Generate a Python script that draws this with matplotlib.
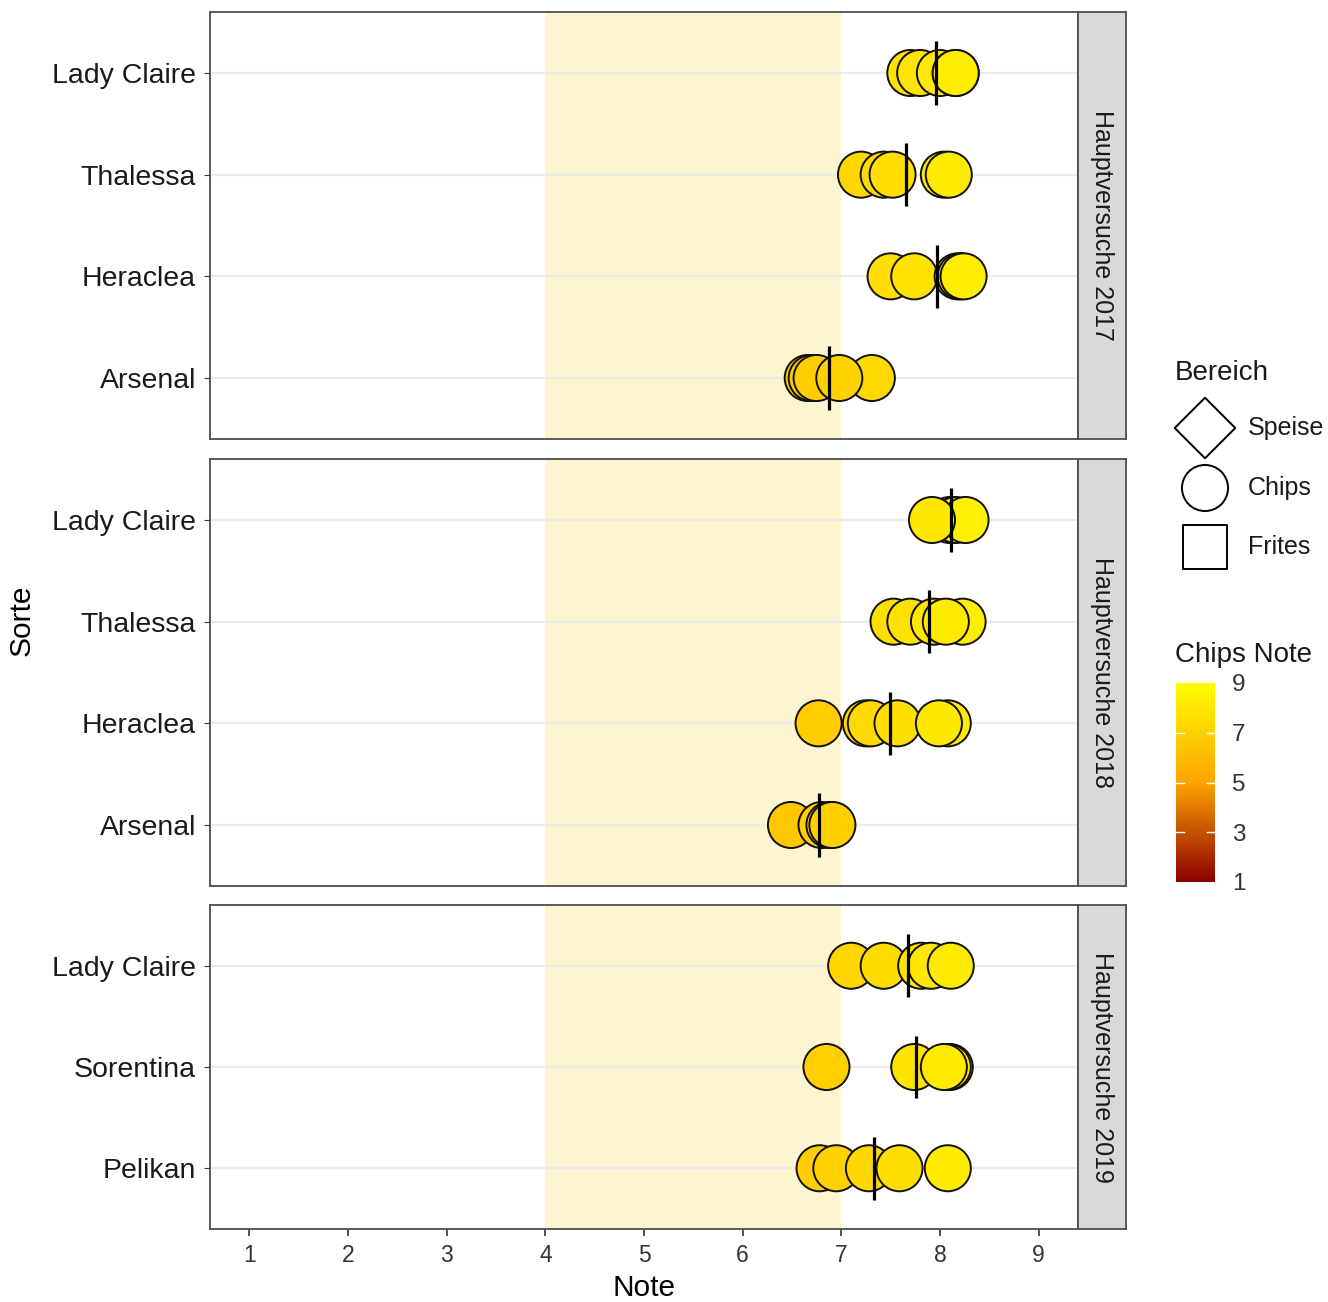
import matplotlib.pyplot as plt
import numpy as np
from matplotlib.colors import LinearSegmentedColormap, Normalize

plt.rcParams['font.family'] = ['Liberation Sans', 'DejaVu Sans']

W, H = 1328, 1302

# data
jahre = ['Hauptversuche 2017', 'Hauptversuche 2018', 'Hauptversuche 2019']

sorten_2017 = ['Lady Claire', 'Thalessa', 'Heraclea', 'Arsenal']
noten_2017 = [[7.70, 7.80, 8.00, 8.16, 8.16],
              [7.20, 7.43, 7.52, 8.04, 8.09],
              [7.50, 7.74, 8.18, 8.21, 8.24],
              [6.66, 6.70, 6.75, 7.31, 6.98]]

sorten_2018 = ['Lady Claire', 'Thalessa', 'Heraclea', 'Arsenal']
noten_2018 = [[8.10, 8.16, 8.26, 7.92],
              [7.53, 7.70, 8.23, 7.94, 8.06],
              [6.77, 7.25, 7.30, 7.57, 8.08, 7.99],
              [6.49, 6.80, 6.88, 6.91]]

sorten_2019 = ['Lady Claire', 'Sorentina', 'Pelikan']
noten_2019 = [[7.10, 7.43, 7.81, 7.91, 8.11],
              [6.85, 7.74, 8.10, 8.08, 8.04],
              [6.78, 6.95, 7.28, 7.59, 8.08]]

sorten = [sorten_2017, sorten_2018, sorten_2019]
noten = [noten_2017, noten_2018, noten_2019]

zielbereich = (4, 7)
x_ticks = [1, 2, 3, 4, 5, 6, 7, 8, 9]
cbar_ticks = [1, 3, 5, 7, 9]

cmap = LinearSegmentedColormap.from_list('chips', ['#8B0000', '#FFA500', '#FFFF00'])
norm = Normalize(1, 9)

fig = plt.figure(figsize=(W / 100, H / 100), dpi=100)


def px_axes(x0, y0, x1, y1):
    return fig.add_axes([x0 / W, 1 - y1 / H, (x1 - x0) / W, (y1 - y0) / H])


panels = [(12, 439), (459, 886), (905, 1229)]
border = '#4d4d4d'

for k, (top, bot) in enumerate(panels):
    ax = px_axes(210, top, 1078, bot)
    n = len(sorten[k])
    ax.set_xlim(0.6, 9.4)
    ax.set_ylim(-0.6, n - 0.4)
    ax.axvspan(*zielbereich, color='#fdf5cf', zorder=0, lw=0)
    for i, (name, vals) in enumerate(zip(sorten[k], noten[k])):
        y = n - 1 - i
        ax.axhline(y, color='#ebebeb', lw=1.6, zorder=1)
        ax.scatter(vals, [y] * len(vals), s=1100, c=vals, cmap=cmap, norm=norm,
                   edgecolors='#111111', linewidths=1.4, zorder=3)
        m = np.mean(vals)
        ax.plot([m, m], [y - 0.31, y + 0.31], color='black', lw=2.3, zorder=4,
                solid_capstyle='butt')
    ax.set_yticks(range(n))
    ax.set_yticklabels(sorten[k][::-1], fontsize=20.5, color='#1a1a1a')
    ax.tick_params(axis='y', length=4, color='#333333', pad=6)
    ax.set_xticks(x_ticks)
    if k < 2:
        ax.tick_params(axis='x', bottom=False, labelbottom=False)
    else:
        ax.tick_params(axis='x', length=5, width=1.2, color='#333333',
                       labelsize=16.5, labelcolor='#333333', pad=6)
        ax.set_xlabel('Note', fontsize=21.5, labelpad=5)
    for sp in ax.spines.values():
        sp.set_color(border)
        sp.set_linewidth(1.3)

    sax = px_axes(1078, top, 1126, bot)
    sax.set_facecolor('#d9d9d9')
    sax.set_xticks([])
    sax.set_yticks([])
    for sp in sax.spines.values():
        sp.set_color(border)
        sp.set_linewidth(1.3)
    sax.text(0.5, 0.5, jahre[k], rotation=-90, ha='center', va='center',
             fontsize=18, color='#1a1a1a', transform=sax.transAxes)

fig.text(22 / W, 1 - 620 / H, 'Sorte', rotation=90, ha='center', va='center',
         fontsize=21.5)

# legend for shape
lax = px_axes(1130, 340, 1328, 600)
lax.set_xlim(1130, 1328)
lax.set_ylim(600, 340)
lax.axis('off')
lax.text(1175, 373, 'Bereich', fontsize=20, va='center', ha='left', color='#1a1a1a')
formen = [('D', 'Speise', 428, 950), ('o', 'Chips', 488, 1100), ('s', 'Frites', 547, 1000)]
for mk, lab, yy, ss in formen:
    lax.scatter([1205], [yy], marker=mk, s=ss, facecolors='none', edgecolors='black',
                linewidths=1.4)
    lax.text(1248, yy, lab, fontsize=18, va='center', ha='left', color='#1a1a1a')

fig.text(1175 / W, 1 - 655 / H, 'Chips Note', fontsize=20, va='center', ha='left',
         color='#1a1a1a')
cax = px_axes(1176, 683, 1215, 882)
grad = np.linspace(1, 9, 256).reshape(-1, 1)
cax.imshow(grad, aspect='auto', cmap=cmap, norm=norm, origin='lower',
           extent=[0, 1, 1, 9])
cax.set_xlim(0, 1)
cax.set_ylim(1, 9)
cax.set_xticks([])
cax.yaxis.tick_right()
cax.set_yticks(cbar_ticks)
cax.tick_params(axis='y', length=0, labelsize=17.5, labelcolor='#333333', pad=12)
for t in cbar_ticks[1:-1]:
    cax.plot([0, 0.2], [t, t], color='white', lw=1)
    cax.plot([0.8, 1], [t, t], color='white', lw=1)
for sp in cax.spines.values():
    sp.set_visible(False)

fig.savefig('out.png', dpi=100)
